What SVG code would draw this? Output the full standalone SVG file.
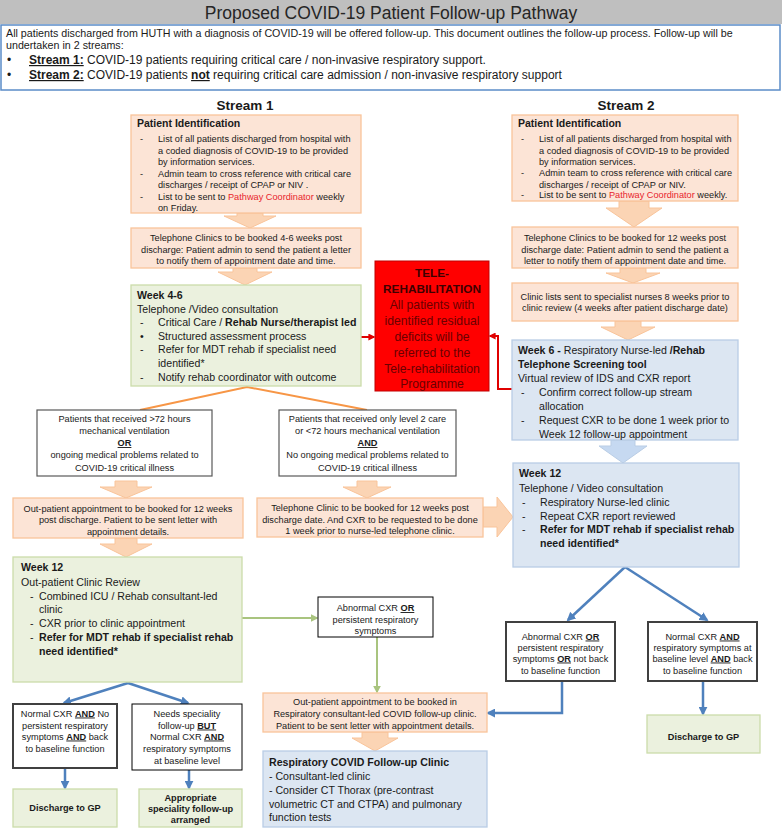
<svg xmlns="http://www.w3.org/2000/svg" width="782" height="840" viewBox="0 0 782 840">
<style>
text{font-family:"Liberation Sans",Arial,sans-serif;fill:#1a1a1a}
.s9{font-size:9.2px}
.s10{font-size:10.6px}
.b{font-weight:bold}
.m{text-anchor:middle}
.u{text-decoration:underline}
.red{fill:#e8242c}
.peach{fill:#fce4d6;stroke:#f9c49a;stroke-width:1.3}
.green{fill:#ebf1de;stroke:#cbdcaa;stroke-width:1.3}
.blue{fill:#dce6f2;stroke:#b9cde5;stroke-width:1.3}
.dec{fill:#fff;stroke:#595959;stroke-width:1.2}
.decb{fill:#fff;stroke:#000;stroke-width:1}
.dect{fill:#fff;stroke:#404040;stroke-width:2}
.parr{fill:#fbd4b4;stroke:#f9c49a;stroke-width:1}
.barr{fill:#c6d9f1;stroke:#b9cde5;stroke-width:1}
.cb{fill:none;stroke:#4f81bd;stroke-width:2.5}
.cg{fill:none;stroke:#a9c47f;stroke-width:2}
.co{fill:none;stroke:#f79646;stroke-width:2}
.cr{fill:none;stroke:#e00000;stroke-width:2}
.tr{fill:#6a0000;font-size:12.2px;text-anchor:middle}
</style>
<defs>
<marker id="mb" viewBox="0 0 10 10" refX="8" refY="5" markerWidth="9" markerHeight="9" markerUnits="userSpaceOnUse" orient="auto"><path d="M0,0 L10,5 L0,10 z" fill="#4f81bd"/></marker>
<marker id="mg" viewBox="0 0 10 10" refX="8" refY="5" markerWidth="8" markerHeight="8" markerUnits="userSpaceOnUse" orient="auto"><path d="M0,0 L10,5 L0,10 z" fill="#a9c47f"/></marker>
<marker id="mr" viewBox="0 0 10 10" refX="8" refY="5" markerWidth="7" markerHeight="7" markerUnits="userSpaceOnUse" orient="auto"><path d="M0,0 L10,5 L0,10 z" fill="#e00000"/></marker>
</defs>

<g id="header">
<rect x="0" y="0" width="782" height="24" fill="#bfbfbf"/>
<text x="391" y="19" class="m" font-size="17.5px" style="fill:#262626">Proposed COVID-19 Patient Follow-up Pathway</text>
</g>
<g id="intro">
<rect x="1" y="25" width="779" height="65" fill="#fff" stroke="#5b8cc8" stroke-width="1.5"/>
<text x="6" y="37" font-size="10.7px">All patients discharged from HUTH with a diagnosis of COVID-19 will be offered follow-up. This document outlines the follow-up process. Follow-up will be</text>
<text x="6" y="48.5" font-size="10.7px">undertaken in 2 streams:</text>
<text x="7" y="64" font-size="12px">•</text>
<text x="29" y="64" font-size="12px"><tspan class="b u">Stream 1:</tspan> COVID-19 patients requiring critical care  / non-invasive respiratory support.</text>
<text x="7" y="79" font-size="12px">•</text>
<text x="29" y="79" font-size="12px"><tspan class="b u">Stream 2:</tspan> COVID-19  patients <tspan class="b u">not</tspan> requiring critical care admission / non-invasive respiratory support</text>
</g>

<text x="245" y="110" class="b m" font-size="13.5px">Stream 1</text>
<text x="626" y="110" class="b m" font-size="13.5px">Stream 2</text>

<g id="connectors">
<path class="parr" d="M237,213 H263 V216 H276 L250,228 L224,216 H237 Z"/>
<path class="parr" d="M233,268 H257 V272 H272 L245,285 L218,272 H233 Z"/>
<path class="parr" d="M115,481 H137 V487 H152 L126,498 L100,487 H115 Z"/>
<path class="parr" d="M115,538 H137 V544 H152 L126,557 L100,544 H115 Z"/>
<path class="parr" d="M357,481 H377 V487 H391 L367,498 L343,487 H357 Z"/>
<path class="parr" d="M483,507 H497 V497 L513,517 L497,537 V527 H483 Z"/>
<path class="parr" d="M362,732 H388 V738 H398 L375,751 L352,738 H362 Z"/>
<path class="parr" d="M619,201 H649 V208 H662 L634,227 L606,208 H619 Z"/>
<path class="parr" d="M620,268 H646 V273 H660 L633,283 L606,273 H620 Z"/>
<path class="parr" d="M615,321 H641 V327 H655 L628,340 L601,327 H615 Z"/>
<path class="barr" d="M611,440 H635 V446 H647 L623,463 L599,446 H611 Z"/>
<path class="co" d="M140,410 L247,387 L367,410"/>
<path class="cr" d="M361,337 H374" marker-end="url(#mr)"/>
<path class="cr" d="M513,389 H498 V336 H490" marker-end="url(#mr)"/>
<path class="cb" d="M128,683 L64,703" marker-end="url(#mb)"/>
<path class="cb" d="M128,683 L188,703" marker-end="url(#mb)"/>
<path class="cb" d="M65,768 V788" marker-end="url(#mb)"/>
<path class="cb" d="M189,770 V788" marker-end="url(#mb)"/>
<path class="cg" d="M242,618 H317" marker-end="url(#mg)"/>
<path class="cg" d="M377,637 V692" marker-end="url(#mg)"/>
<path class="cb" d="M625,567 L568,620" marker-end="url(#mb)"/>
<path class="cb" d="M625,567 L707,620" marker-end="url(#mb)"/>
<path class="cb" d="M562,681 V713 H488" marker-end="url(#mb)"/>
<path class="cb" d="M703,681 V714" marker-end="url(#mb)"/>
</g>

<g id="s1-identification">
<rect class="peach" x="131" y="115" width="230" height="98"/>
<text x="137" y="127" class="b" font-size="10.5px">Patient Identification</text>
<text x="140" y="142" class="s9">-</text><text x="158" y="142" class="s9">List of all patients discharged from hospital with</text>
<text x="158" y="154" class="s9">a coded diagnosis of COVID-19 to be provided</text>
<text x="158" y="165" class="s9">by information services.</text>
<text x="140" y="177" class="s9">-</text><text x="158" y="177" class="s9">Admin team to cross reference with critical care</text>
<text x="158" y="188" class="s9">discharges / receipt of CPAP or NIV .</text>
<text x="140" y="200" class="s9">-</text><text x="158" y="200" class="s9">List to be sent to <tspan class="red">Pathway Coordinator</tspan> weekly</text>
<text x="158" y="211" class="s9">on Friday.</text>
</g>

<g id="s1-telephone">
<rect class="peach" x="131" y="228" width="230" height="40"/>
<text x="246" y="241" class="s9 m">Telephone Clinics to be booked 4-6 weeks post</text>
<text x="246" y="253" class="s9 m">discharge: Patient admin to send the patient a letter</text>
<text x="246" y="264" class="s9 m">to notify them of appointment date and time.</text>
</g>

<g id="s1-week4-6">
<rect class="green" x="131" y="285" width="230" height="101"/>
<text x="137" y="299" class="s10 b">Week 4-6</text>
<text x="137" y="312.5" class="s10">Telephone /Video consultation</text>
<text x="140" y="326" class="s10">-</text><text x="158" y="326" class="s10">Critical Care / <tspan class="b">Rehab Nurse/therapist  led</tspan></text>
<text x="140" y="339.5" class="s10">•</text><text x="158" y="339.5" class="s10">Structured assessment process</text>
<text x="140" y="353" class="s10">-</text><text x="158" y="353" class="s10">Refer for MDT rehab if specialist need</text>
<text x="158" y="366.5" class="s10">identified*</text>
<text x="140" y="381" class="s10">-</text><text x="158" y="381" class="s10">Notify rehab coordinator with outcome</text>
</g>

<g id="tele-rehab">
<rect x="375" y="261" width="114" height="130" fill="#ff0000" stroke="#c00000" stroke-width="1"/>
<text x="432" y="277" class="b m" font-size="11.8px" style="fill:#3d0000">TELE-</text>
<text x="432" y="293" class="b m" font-size="11.8px" style="fill:#3d0000">REHABILITATION</text>
<text x="432" y="309" class="tr">All patients with</text>
<text x="432" y="325" class="tr">identified residual</text>
<text x="432" y="341" class="tr">deficits will be</text>
<text x="432" y="357" class="tr">referred to the</text>
<text x="432" y="373" class="tr">Tele-rehabilitation</text>
<text x="432" y="388" class="tr">Programme</text>
</g>

<g id="s1-crit-long">
<rect class="dec" x="37" y="410" width="175" height="66"/>
<text x="124.5" y="421.5" class="s9 m">Patients that received &gt;72 hours</text>
<text x="124.5" y="434" class="s9 m">mechanical ventilation</text>
<text x="124.5" y="446" class="s9 m b u">OR</text>
<text x="124.5" y="458" class="s9 m">ongoing medical problems related to</text>
<text x="124.5" y="470.5" class="s9 m">COVID-19 critical illness</text>
</g>

<g id="s1-crit-short">
<rect class="dec" x="279" y="410" width="177" height="66"/>
<text x="367.5" y="421.5" class="s9 m">Patients that received only level 2 care</text>
<text x="367.5" y="434" class="s9 m">or &lt;72 hours mechanical ventilation</text>
<text x="367.5" y="446" class="s9 m b u">AND</text>
<text x="367.5" y="458" class="s9 m">No ongoing medical problems related to</text>
<text x="367.5" y="470.5" class="s9 m">COVID-19 critical illness</text>
</g>

<g id="s1-outpatient-12">
<rect class="peach" x="13" y="498" width="230" height="40"/>
<text x="128" y="511.5" class="s9 m">Out-patient appointment to be booked for 12 weeks</text>
<text x="128" y="523" class="s9 m">post discharge. Patient to be sent letter with</text>
<text x="128" y="534.5" class="s9 m">appointment details.</text>
</g>

<g id="s1-telephone-12">
<rect class="peach" x="257" y="498" width="226" height="39"/>
<text x="370" y="510.5" class="s9 m">Telephone Clinic to be booked for 12 weeks post</text>
<text x="370" y="522.5" class="s9 m">discharge date. And CXR to be requested to be done</text>
<text x="370" y="533.5" class="s9 m">1 week prior to nurse-led telephone clinic.</text>
</g>

<g id="s1-week12">
<rect class="green" x="13" y="557" width="229" height="125"/>
<text x="21" y="571" class="s10 b">Week 12</text>
<text x="21" y="586" class="s10">Out-patient Clinic Review</text>
<text x="30" y="599.5" class="s10">-</text><text x="39" y="599.5" class="s10">Combined ICU / Rehab consultant-led</text>
<text x="39" y="613" class="s10">clinic</text>
<text x="30" y="627" class="s10">-</text><text x="39" y="627" class="s10">CXR prior to clinic appointment</text>
<text x="30" y="641" class="s10">-</text><text x="39" y="641" class="s10 b">Refer for MDT rehab if specialist rehab</text>
<text x="39" y="654.5" class="s10 b">need identified*</text>
</g>

<g id="s1-abnormal">
<rect class="decb" x="318" y="597" width="115" height="40"/>
<text x="375.5" y="611" class="s9 m">Abnormal CXR <tspan class="b u">OR</tspan></text>
<text x="375.5" y="623" class="s9 m">persistent respiratory</text>
<text x="375.5" y="634" class="s9 m">symptoms</text>
</g>

<g id="s1-normal">
<rect class="dect" x="13" y="704" width="104" height="64"/>
<text x="65" y="716.5" class="s9 m">Normal CXR <tspan class="b u">AND</tspan> No</text>
<text x="65" y="728.5" class="s9 m">persistent respiratory</text>
<text x="65" y="739.5" class="s9 m">symptoms <tspan class="b u">AND</tspan> back</text>
<text x="65" y="751.5" class="s9 m">to baseline function</text>
</g>

<g id="s1-speciality">
<rect class="decb" x="132" y="704" width="110" height="66"/>
<text x="187" y="716.5" class="s9 m">Needs speciality</text>
<text x="187" y="728.5" class="s9 m">follow-up <tspan class="b u">BUT</tspan></text>
<text x="187" y="739.5" class="s9 m">Normal CXR <tspan class="b u">AND</tspan></text>
<text x="187" y="751.5" class="s9 m">respiratory symptoms</text>
<text x="187" y="763.5" class="s9 m">at baseline level</text>
</g>

<g id="s1-discharge-gp">
<rect class="green" x="13" y="789" width="104" height="38"/>
<text x="65" y="811" class="s9 m b">Discharge to GP</text>
</g>

<g id="s1-speciality-arranged">
<rect class="green" x="139" y="789" width="103" height="38"/>
<text x="190.5" y="800.5" class="s9 m b">Appropriate</text>
<text x="190.5" y="811.5" class="s9 m b">speciality follow-up</text>
<text x="190.5" y="822.5" class="s9 m b">arranged</text>
</g>

<g id="resp-outpatient">
<rect class="peach" x="263" y="693" width="224" height="39"/>
<text x="375" y="704.5" class="s9 m">Out-patient appointment to be booked in</text>
<text x="375" y="716.5" class="s9 m">Respiratory consultant-led COVID follow-up clinic.</text>
<text x="375" y="728.5" class="s9 m">Patient to be sent letter with appointment details.</text>
</g>

<g id="resp-clinic">
<rect class="blue" x="263" y="751" width="224" height="76"/>
<text x="269" y="766" class="s10 b">Respiratory COVID Follow-up Clinic</text>
<text x="269" y="779.5" class="s10">- Consultant-led  clinic</text>
<text x="269" y="793.5" class="s10">- Consider  CT Thorax (pre-contrast</text>
<text x="269" y="807.5" class="s10">volumetric  CT and CTPA) and pulmonary</text>
<text x="269" y="821" class="s10">function tests</text>
</g>

<g id="s2-identification">
<rect class="peach" x="512" y="115" width="226" height="86"/>
<text x="518" y="127" class="b" font-size="10.5px">Patient Identification</text>
<text x="521" y="142" class="s9">-</text><text x="539" y="142" class="s9">List of all patients discharged from hospital with</text>
<text x="539" y="153.5" class="s9">a coded diagnosis of COVID-19 to be provided</text>
<text x="539" y="165" class="s9">by information services.</text>
<text x="521" y="176" class="s9">-</text><text x="539" y="176" class="s9">Admin team to cross reference with critical care</text>
<text x="539" y="187.5" class="s9">discharges / receipt of CPAP or NIV.</text>
<text x="521" y="198" class="s9">-</text><text x="539" y="198" class="s9">List to be sent to <tspan class="red">Pathway Coordinator</tspan> weekly.</text>
</g>

<g id="s2-telephone">
<rect class="peach" x="512" y="227" width="226" height="41"/>
<text x="625" y="241" class="s9 m">Telephone Clinics to be booked for 12 weeks  post</text>
<text x="625" y="253" class="s9 m">discharge date: Patient admin to send the patient a</text>
<text x="625" y="264" class="s9 m">letter to notify them of appointment date and time.</text>
</g>

<g id="s2-clinic-lists">
<rect class="peach" x="512" y="283" width="226" height="38"/>
<text x="625" y="299.5" class="s9 m">Clinic lists sent to specialist nurses 8 weeks prior to</text>
<text x="625" y="311" class="s9 m">clinic review (4 weeks after patient discharge date)</text>
</g>

<g id="s2-week6">
<rect class="blue" x="512" y="340" width="226" height="100"/>
<text x="518" y="354" class="s10"><tspan class="b">Week 6 -</tspan> Respiratory Nurse-led <tspan class="b">/Rehab</tspan></text>
<text x="518" y="367.5" class="s10 b">Telephone Screening tool</text>
<text x="518" y="382" class="s10">Virtual review of IDS and CXR report</text>
<text x="521" y="396" class="s10">-</text><text x="539" y="396" class="s10">Confirm correct follow-up stream</text>
<text x="539" y="410" class="s10">allocation</text>
<text x="521" y="424" class="s10">-</text><text x="539" y="424" class="s10">Request CXR to be done 1 week prior to</text>
<text x="539" y="438" class="s10">Week 12 follow-up appointment</text>
</g>

<g id="s2-week12">
<rect class="blue" x="513" y="463" width="226" height="104"/>
<text x="519" y="477" class="s10 b">Week 12</text>
<text x="519" y="492" class="s10">Telephone  / Video consultation</text>
<text x="522" y="506" class="s10">-</text><text x="540" y="506" class="s10">Respiratory Nurse-led clinic</text>
<text x="522" y="519.5" class="s10">-</text><text x="540" y="519.5" class="s10">Repeat CXR report reviewed</text>
<text x="522" y="533" class="s10">-</text><text x="540" y="533" class="s10 b">Refer for MDT rehab if specialist rehab</text>
<text x="540" y="547" class="s10 b">need identified*</text>
</g>

<g id="s2-abnormal">
<rect class="dect" x="506" y="622" width="109" height="59"/>
<text x="560.5" y="639.5" class="s9 m">Abnormal CXR <tspan class="b u">OR</tspan></text>
<text x="560.5" y="650.5" class="s9 m">persistent respiratory</text>
<text x="560.5" y="661.5" class="s9 m">symptoms <tspan class="b u">OR</tspan> not back</text>
<text x="560.5" y="673.5" class="s9 m">to baseline function</text>
</g>

<g id="s2-normal">
<rect class="dect" x="648" y="622" width="109" height="59"/>
<text x="702.5" y="639.5" class="s9 m">Normal CXR <tspan class="b u">AND</tspan></text>
<text x="702.5" y="650.5" class="s9 m">respiratory symptoms at</text>
<text x="702.5" y="661.5" class="s9 m">baseline level <tspan class="b u">AND</tspan> back</text>
<text x="702.5" y="673.5" class="s9 m">to baseline function</text>
</g>

<g id="s2-discharge-gp">
<rect class="green" x="647" y="715" width="113" height="38"/>
<text x="703.5" y="740" class="s9 m b">Discharge to GP</text>
</g>
</svg>
